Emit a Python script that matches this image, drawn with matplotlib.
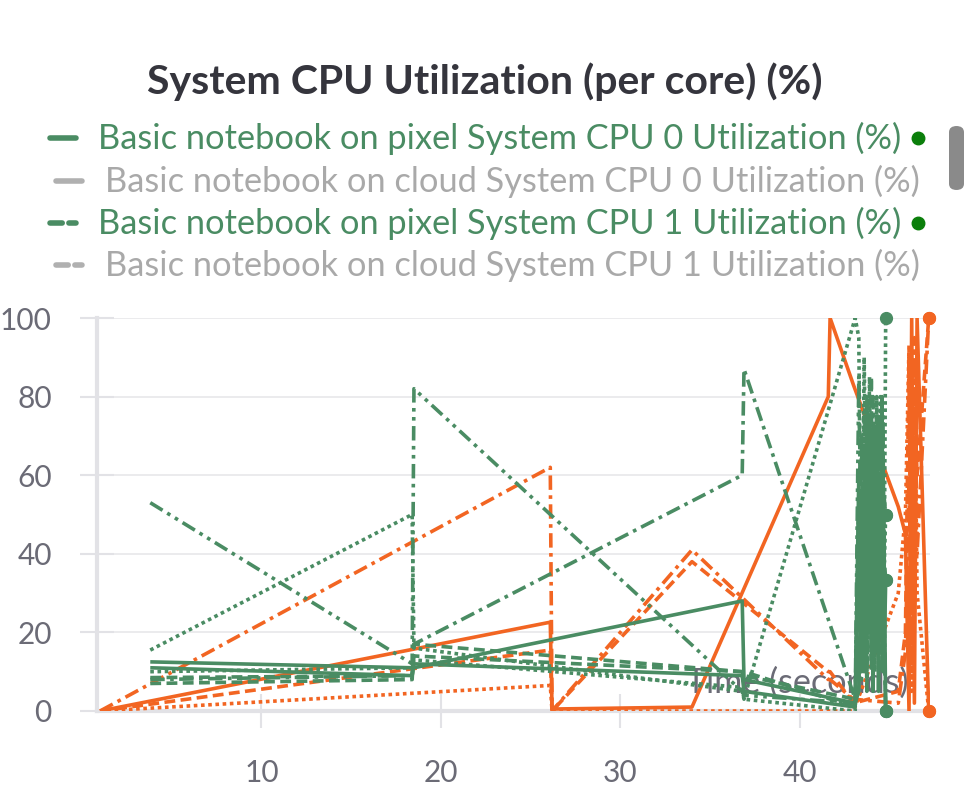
import matplotlib
matplotlib.use("Agg")
import matplotlib.pyplot as plt
from matplotlib.lines import Line2D
from matplotlib.patches import FancyBboxPatch

plt.rcParams['font.family'] = ['Lato', 'DejaVu Sans']

# ---------------- data ----------------
title = "System CPU Utilization (per core) (%)"
xlabel = "Time (seconds)"
legend_labels = [
    "Basic notebook on pixel System CPU 0 Utilization (%)",
    "Basic notebook on cloud System CPU 0 Utilization (%)",
    "Basic notebook on pixel System CPU 1 Utilization (%)",
    "Basic notebook on cloud System CPU 1 Utilization (%)",
]
x_ticks = [10, 20, 30, 40]
y_ticks = [0, 20, 40, 60, 80, 100]

# pixel run (green)
pixel_t = [3.8, 18.4, 18.5, 36.8, 36.9, 43.1,
           43.3, 43.45, 43.6, 43.75, 43.9, 44.0, 44.1, 44.2, 44.3, 44.4, 44.5, 44.6, 44.65, 44.7, 44.8]
pixel_cpu0 = [12.5, 11, 11, 28, 8, 2,
              5, 40, 10, 75, 20, 60, 5, 70, 15, 50, 30, 80, 10, 45, 0]
pixel_cpu1 = [7, 8, 17, 10, 9, 3,
              8, 70, 15, 80, 25, 85, 10, 65, 20, 75, 35, 60, 15, 55, 50]
pixel_cpu2 = [15.5, 50, 16, 5, 3, 100,
              95, 20, 90, 30, 85, 40, 70, 10, 60, 25, 80, 35, 65, 20, 100]
pixel_cpu3 = [8, 9, 17, 60, 87, 3,
              50, 8, 65, 20, 70, 10, 55, 30, 75, 15, 60, 25, 70, 40, 33.3]
pixel_cpu4 = [53, 12, 82, 5, 4, 2,
              85, 30, 75, 15, 55, 25, 80, 20, 65, 10, 50, 35, 75, 30, 0]
pixel_cpu5 = [11, 9, 12, 9, 5, 1,
              60, 10, 50, 35, 70, 15, 45, 25, 65, 5, 55, 20, 60, 10, 33.3]
pixel_cpu6 = [8.5, 9, 14, 10, 10, 1,
              45, 20, 60, 5, 75, 30, 50, 15, 70, 25, 40, 10, 55, 20, 0]
pixel_cpu7 = [10, 11, 13, 6, 3, 0,
              55, 25, 70, 10, 40, 20, 65, 30, 80, 15, 45, 25, 60, 35, 50]

# cloud run (orange)
cloud_t = [1.0, 26.1, 26.2, 34.0, 41.6, 41.7, 43.0, 45.5, 45.9, 46.1, 46.25, 46.4, 46.55, 47.2]
cloud_cpu0 = [0, 22.6, 0.5, 1, 80, 100, 83, 52, 45, 0, 100, 2, 100, 0]
cloud_cpu1 = [0, 15.5, 0, 38, 10, 10, 2, 5, 20, 90, 10, 80, 60, 100]
cloud_cpu2 = [0, 6.5, 0, 0, 0, 0, 0, 30, 50, 93, 5, 90, 30, 0]
cloud_cpu3 = [0, 62, 0, 41, 8, 8, 3, 2, 15, 60, 20, 95, 40, 100]

# ---------------- style ----------------
GREEN = "#4a8c63"
ORANGE = "#f26522"
GRAY_TXT = "#a9a9a9"
TICK_C = "#6b6b76"
AXIS_C = "#e2e2e6"

styles = {
    'solid': '-',
    'dashed': (0, (3, 1.5)),
    'dotted': (0, (1, 1)),
    'dashdot': (0, (4, 1.5, 1, 1.5)),
    'dashdotdot': (0, (4, 1.5, 1, 1.5, 1, 1.5)),
}

W, H = 971, 785
fig = plt.figure(figsize=(W / 100, H / 100), dpi=100)
ax = fig.add_axes([97 / W, 1 - 711 / H, (930 - 97) / W, (711 - 318) / H])

pixel_series = [(pixel_cpu0, 'solid'), (pixel_cpu1, 'dashed'), (pixel_cpu2, 'dotted'),
                (pixel_cpu3, 'dashdot'), (pixel_cpu4, 'dashdotdot'), (pixel_cpu5, 'solid'),
                (pixel_cpu6, 'dashed'), (pixel_cpu7, 'dotted')]
cloud_series = [(cloud_cpu0, 'solid'), (cloud_cpu1, 'dashed'), (cloud_cpu2, 'dotted'),
                (cloud_cpu3, 'dashdot')]

lw = 2.6
for vals, st in cloud_series:
    ax.plot(cloud_t, vals, color=ORANGE, lw=lw, linestyle=styles[st], zorder=3,
            solid_capstyle='butt', dash_capstyle='butt')
    ax.plot(cloud_t[-1], vals[-1], 'o', color=ORANGE, ms=8.5, zorder=5, clip_on=False)
for vals, st in pixel_series:
    ax.plot(pixel_t, vals, color=GREEN, lw=lw, linestyle=styles[st], zorder=4,
            solid_capstyle='butt', dash_capstyle='butt')
    ax.plot(pixel_t[-1], vals[-1], 'o', color=GREEN, ms=8.5, zorder=5, clip_on=False)

ax.set_xlim(0.83, 47.27)
ax.set_ylim(0, 100)
ax.set_xticks(x_ticks)
ax.set_yticks(y_ticks)
ax.grid(axis='y', color='#e8e8ea', lw=1.2, zorder=0)
ax.set_axisbelow(True)
for s in ['top', 'right']:
    ax.spines[s].set_visible(False)
for s in ['left', 'bottom']:
    ax.spines[s].set_color(AXIS_C)
    ax.spines[s].set_linewidth(3)

# fit tick font size so "100" is ~52px wide
fig.canvas.draw()
r = fig.canvas.get_renderer()
tmp = fig.text(0, 0, "100", fontsize=20)
tw = tmp.get_window_extent(r).width
tick_fs = 20 * 52 / tw
tmp.remove()

ax.tick_params(axis='both', direction='inout', length=25, width=1.5, color=AXIS_C,
               labelcolor=TICK_C, labelsize=tick_fs)
ax.tick_params(axis='y', pad=20)
ax.tick_params(axis='x', pad=22)

tl = ax.text((797 - 97) / 833, (711 - 683) / 393, xlabel, transform=ax.transAxes,
             ha='center', va='center', color=TICK_C, fontsize=tick_fs, zorder=1)

# title
tt = fig.text(485 / W, 1 - 82 / H, title, ha='center', va='center', fontsize=22,
              fontweight='bold', color='#35353d')

# legend
leg_y = [138, 181, 223, 265]
leg_x = [98, 105, 98, 105]
leg_col = [GREEN, GRAY_TXT, GREEN, GRAY_TXT]
leg_handle_x = [(50, 76), (56, 82), (50, 76), (56, 82)]
leg_ls = ['-', '-', (0, (2.2, 1.2)), (0, (2.2, 1.2))]
texts = []
for i, lab in enumerate(legend_labels):
    t = fig.text(leg_x[i] / W, 1 - leg_y[i] / H, lab, ha='left', va='center',
                 fontsize=20, color=leg_col[i])
    texts.append(t)
    x0, x1 = leg_handle_x[i]
    hcol = GREEN if i % 2 == 0 else '#b0b0b0'
    fig.add_artist(Line2D([x0 / W, x1 / W], [1 - leg_y[i] / H] * 2, transform=fig.transFigure,
                          color=hcol, lw=4, linestyle=leg_ls[i], solid_capstyle='round',
                          dash_capstyle='round'))
    if i % 2 == 0:
        fig.add_artist(Line2D([918 / W], [1 - leg_y[i] / H], transform=fig.transFigure,
                              marker='o', ms=9, color='#0b7f0b', lw=0))

# fit sizes to reference widths
fig.canvas.draw()
r = fig.canvas.get_renderer()
def fit(t, w):
    bw = t.get_window_extent(r).width
    t.set_fontsize(t.get_fontsize() * w / bw)
fit(tt, 674)
fit(tl, 223)
fs_leg = texts[0].get_fontsize() * 802 / texts[0].get_window_extent(r).width
for t in texts:
    t.set_fontsize(fs_leg)

# scrollbar
fig.add_artist(FancyBboxPatch((949 / W, 1 - 190 / H), 15 / W, 64 / H,
                              boxstyle="round,pad=0,rounding_size=0.008",
                              transform=fig.transFigure, color='#8a8a8a', lw=0))

fig.savefig("out.png", dpi=100)
